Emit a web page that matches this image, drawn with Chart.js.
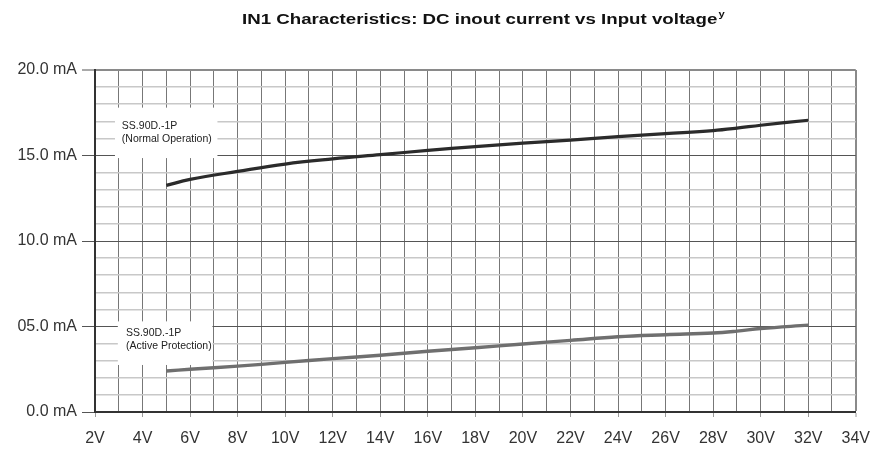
<!DOCTYPE html>
<html>
<head>
<meta charset="utf-8">
<script src="https://cdn.jsdelivr.net/npm/chart.js@4.4.1/dist/chart.umd.min.js"></script>
<style>
  html, body { margin: 0; padding: 0; background: #ffffff; }
  #wrap { width: 882px; height: 450px; }
</style>
</head>
<body>
<div id="wrap"><canvas id="c" width="882" height="450"></canvas></div>
<script>
// ---- data ----
const titleText = 'IN1 Characteristics: DC inout current vs Input voltage';
const titleSup = 'y';
const voltages = [5, 6, 8, 10, 12, 14, 16, 18, 20, 22, 24, 26, 28, 29, 30, 32];
const normalOperation = [13.25, 13.6, 14.07, 14.5, 14.8, 15.05, 15.3, 15.52, 15.72, 15.9, 16.1, 16.28, 16.46, 16.6, 16.77, 17.06];
const activeProtection = [2.4, 2.5, 2.68, 2.9, 3.12, 3.32, 3.55, 3.76, 3.98, 4.19, 4.4, 4.52, 4.62, 4.73, 4.88, 5.08];
const seriesNames = ['SS.90D.-1P (Normal Operation)', 'SS.90D.-1P (Active Protection)'];
const noteNormal = ['SS.90D.-1P', '(Normal Operation)'];
const noteActive = ['SS.90D.-1P', '(Active Protection)'];
const xTickValues = [2, 4, 6, 8, 10, 12, 14, 16, 18, 20, 22, 24, 26, 28, 30, 32, 34];
const xTickLabels = ['2V', '4V', '6V', '8V', '10V', '12V', '14V', '16V', '18V', '20V', '22V', '24V', '26V', '28V', '30V', '32V', '34V'];
const yTickValues = [0, 5, 10, 15, 20];
const yTickLabels = ['0.0 mA', '05.0 mA', '10.0 mA', '15.0 mA', '20.0 mA'];

// ---- layout of the two note boxes (data coordinates) ----
const noteBoxes = [
  { lines: noteNormal, x0: 2.84, x1: 7.15, y0: 17.8, y1: 14.85, tx: 3.13, ty: 16.73 },
  { lines: noteActive, x0: 2.96, x1: 6.94, y0: 5.3, y1: 2.75, tx: 3.30, ty: 4.62 }
];

const toPoints = (xs, ys) => xs.map((x, i) => ({ x: x, y: ys[i] }));

const notesPlugin = {
  id: 'notes',
  beforeDatasetsDraw(chart) {
    const { ctx, scales: { x, y } } = chart;
    ctx.save();
    noteBoxes.forEach(b => {
      const l = x.getPixelForValue(b.x0), r = x.getPixelForValue(b.x1);
      const t = y.getPixelForValue(b.y0), bt = y.getPixelForValue(b.y1);
      ctx.fillStyle = '#ffffff';
      ctx.fillRect(l, t, r - l, bt - t);
      ctx.fillStyle = '#222222';
      ctx.font = '10.5px "Liberation Sans", Arial, sans-serif';
      ctx.textAlign = 'left';
      ctx.textBaseline = 'middle';
      const tx = x.getPixelForValue(b.tx), ty = y.getPixelForValue(b.ty);
      b.lines.forEach((s, i) => ctx.fillText(s, tx, ty + i * 13.5));
    });
    ctx.restore();
  }
};

const titlePlugin = {
  id: 'customTitle',
  afterDraw(chart) {
    const { ctx, chartArea } = chart;
    const sx = 1.245;
    ctx.save();
    ctx.fillStyle = '#111111';
    ctx.textBaseline = 'middle';
    ctx.textAlign = 'left';
    ctx.font = 'bold 15px "Liberation Sans", Arial, sans-serif';
    const mainW = ctx.measureText(titleText).width;
    ctx.font = 'bold 9px "Liberation Sans", Arial, sans-serif';
    const supW = ctx.measureText(titleSup).width;
    const cx = (chartArea.left + chartArea.right) / 2 + 8;
    const total = (mainW + supW + 1) * sx;
    ctx.translate(cx - total / 2, 0);
    ctx.scale(sx, 1);
    ctx.font = 'bold 15px "Liberation Sans", Arial, sans-serif';
    ctx.fillText(titleText, 0, 20);
    ctx.font = 'bold 9px "Liberation Sans", Arial, sans-serif';
    ctx.fillText(titleSup, mainW + 1, 15);
    ctx.restore();
  }
};

new Chart(document.getElementById('c'), {
  type: 'line',
  data: {
    datasets: [
      {
        label: seriesNames[0],
        data: toPoints(voltages, normalOperation),
        borderColor: '#2b2b2b',
        borderWidth: 3.2,
        pointRadius: 0,
        tension: 0.4,
        fill: false
      },
      {
        label: seriesNames[1],
        data: toPoints(voltages, activeProtection),
        borderColor: '#6f6f6f',
        borderWidth: 3.4,
        pointRadius: 0,
        tension: 0.4,
        fill: false
      }
    ]
  },
  options: {
    responsive: false,
    animation: false,
    devicePixelRatio: 1,
    layout: { padding: { top: 70, right: 22, left: 0, bottom: 0 } },
    plugins: {
      legend: { display: false },
      title: { display: false },
      tooltip: { enabled: false }
    },
    scales: {
      x: {
        type: 'linear',
        min: 2,
        max: 34,
        afterFit(scale) { scale.height = 38; },
        afterBuildTicks(scale) {
          const t = [];
          for (let v = 2; v <= 34; v++) t.push({ value: v });
          scale.ticks = t;
        },
        ticks: {
          autoSkip: false,
          maxRotation: 0,
          padding: 12,
          color: '#333333',
          font: { family: '"Liberation Sans", Arial, sans-serif', size: 16 },
          callback(v) {
            const i = xTickValues.indexOf(v);
            return i >= 0 ? xTickLabels[i] : '';
          }
        },
        grid: {
          tickLength: 5,
          color(ctx) {
            const v = ctx.tick && ctx.tick.value;
            if (v === 34) return '#8a8a8a';
            return '#777777';
          },
          lineWidth(ctx) {
            const v = ctx.tick && ctx.tick.value;
            return v === 34 ? 2 : 1;
          },
          tickColor(ctx) {
            const v = ctx.tick && ctx.tick.value;
            return xTickValues.indexOf(v) >= 0 ? '#9a9a9a' : 'rgba(0,0,0,0)';
          },
          tickWidth: 1
        },
        border: { display: true, color: '#333333', width: 2 }
      },
      y: {
        type: 'linear',
        min: 0,
        max: 20,
        afterFit(scale) { scale.width = 95; },
        afterBuildTicks(scale) {
          const t = [];
          for (let v = 0; v <= 20; v++) t.push({ value: v });
          scale.ticks = t;
        },
        ticks: {
          autoSkip: false,
          padding: 5,
          color: '#333333',
          font: { family: '"Liberation Sans", Arial, sans-serif', size: 16 },
          callback(v) {
            const i = yTickValues.indexOf(v);
            return i >= 0 ? yTickLabels[i] : '';
          }
        },
        grid: {
          tickLength: 13,
          color(ctx) {
            const v = ctx.tick && ctx.tick.value;
            if (v === 20) return '#8a8a8a';
            return (v % 5 === 0) ? '#555555' : '#c8c8c8';
          },
          lineWidth(ctx) {
            const v = ctx.tick && ctx.tick.value;
            if (v === 20) return 2;
            return (v % 5 === 0) ? 1 : 1.5;
          },
          tickColor(ctx) {
            const v = ctx.tick && ctx.tick.value;
            return yTickValues.indexOf(v) >= 0 ? '#555555' : 'rgba(0,0,0,0)';
          },
          tickWidth: 1
        },
        border: { display: true, color: '#333333', width: 2 }
      }
    }
  },
  plugins: [notesPlugin, titlePlugin]
});
</script>
</body>
</html>
